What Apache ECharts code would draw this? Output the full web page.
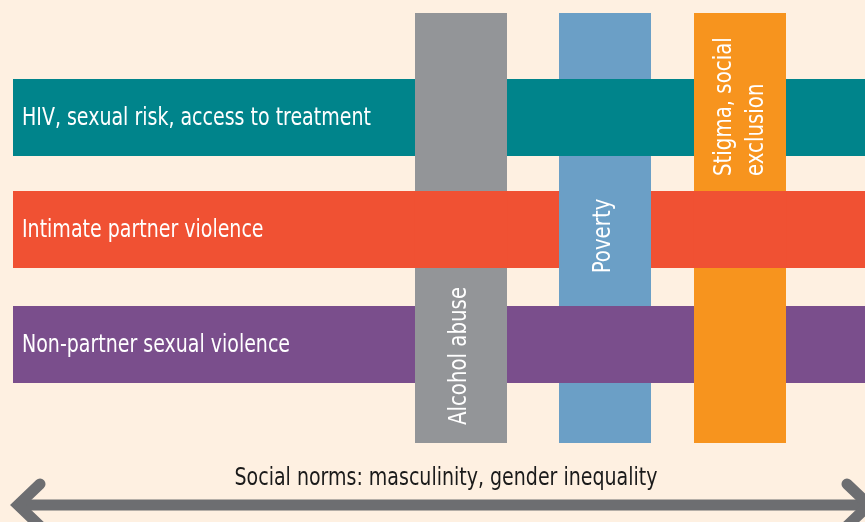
<!DOCTYPE html>
<html>
<head>
<meta charset="utf-8">
<script src="https://cdn.jsdelivr.net/npm/echarts@6/dist/echarts.min.js"></script>
<style>
html,body{margin:0;padding:0;background:#fef0e1;}
#chart{width:865px;height:522px;}
</style>
</head>
<body>
<div id="chart"></div>
<script>
// ---- data ----
const rowNames = ['HIV, sexual risk, access to treatment', 'Intimate partner violence', 'Non-partner sexual violence'];
const colNames = ['Alcohol abuse', 'Poverty', 'Stigma, social\nexclusion'];
// weave: true = the row strand passes over the column strand
const rowOver = [
  [false, true, false],
  [true, false, true],
  [false, true, false]
];
const baseLabel = 'Social norms: masculinity, gender inequality';

// ---- layout / style (not data) ----
const FONT = '"DejaVu Sans Condensed", "DejaVu Sans", sans-serif';
const SX = 0.88;
const rowColors = ['#00848b', '#f05133', '#7a4e8c'];
const colColors = ['#939598', '#6b9fc6', '#f7941e'];
const rowCenter = [117.5, 229.5, 344.5];
const rowHalf = 38.5;
const rowX = [13, 865];
const colCenter = [461, 605, 740];
const colHalf = 46;
const colY = [13, 443];
const colLabelPos = [[459, 356, 'center'], [603, 236, 'center'], [740, 176, 'left']];

const chart = echarts.init(document.getElementById('chart'));

function rect(api, x0, y0, x1, y1, color) {
  const p0 = api.coord([x0, y0]);
  const p1 = api.coord([x1, y1]);
  return {
    type: 'rect',
    shape: { x: Math.min(p0[0], p1[0]), y: Math.min(p0[1], p1[1]), width: Math.abs(p1[0] - p0[0]), height: Math.abs(p1[1] - p0[1]) },
    style: { fill: color }
  };
}

const crossings = [];
rowOver.forEach((r, i) => r.forEach((over, j) => { if (over) crossings.push([i, j]); }));

chart.setOption({
  backgroundColor: '#fef0e1',
  animation: false,
  grid: { left: 0, right: 0, top: 0, bottom: 0 },
  xAxis: { type: 'value', min: 0, max: 865, show: false },
  yAxis: { type: 'value', min: 0, max: 522, inverse: true, show: false },
  series: [
    {
      type: 'custom', z: 1,
      data: rowNames.map((n, i) => [i]),
      renderItem: function (params, api) {
        const i = api.value(0);
        const r = rect(api, rowX[0], rowCenter[i] - rowHalf, rowX[1], rowCenter[i] + rowHalf, rowColors[i]);
        const p = api.coord([22, rowCenter[i]]);
        return {
          type: 'group',
          children: [r, {
            type: 'text', x: p[0], y: p[1] + 1, scaleX: SX,
            style: { text: rowNames[i], fill: '#ffffff', font: '24px ' + FONT, align: 'left', verticalAlign: 'middle' }
          }]
        };
      }
    },
    {
      type: 'custom', z: 2,
      data: colNames.map((n, j) => [j]),
      renderItem: function (params, api) {
        const j = api.value(0);
        const r = rect(api, colCenter[j] - colHalf, colY[0], colCenter[j] + colHalf, colY[1], colColors[j]);
        const lp = colLabelPos[j];
        const p = api.coord([lp[0], lp[1]]);
        return {
          type: 'group',
          children: [r, {
            type: 'text', x: p[0], y: p[1], rotation: Math.PI / 2, scaleX: SX,
            style: { text: colNames[j], fill: '#ffffff', font: '25px ' + FONT, align: lp[2], verticalAlign: 'middle', lineHeight: 32 }
          }]
        };
      }
    },
    {
      type: 'custom', z: 3,
      data: crossings,
      renderItem: function (params, api) {
        const i = api.value(0), j = api.value(1);
        return rect(api, colCenter[j] - colHalf - 0.5, rowCenter[i] - rowHalf, colCenter[j] + colHalf + 0.5, rowCenter[i] + rowHalf, rowColors[i]);
      }
    }
  ],
  graphic: [
    { type: 'line', shape: { x1: 16, y1: 505, x2: 862, y2: 505 }, style: { stroke: '#6d6e71', lineWidth: 11 } },
    { type: 'polyline', shape: { points: [[40, 484], [18, 505], [40, 526]] }, style: { stroke: '#6d6e71', lineWidth: 11, lineCap: 'round', lineJoin: 'miter', fill: null } },
    { type: 'polyline', shape: { points: [[847, 484], [869, 505], [847, 526]] }, style: { stroke: '#6d6e71', lineWidth: 11, lineCap: 'round', lineJoin: 'miter', fill: null } },
    { type: 'text', x: 446, y: 479, scaleX: SX, originX: 0, style: { text: baseLabel, fill: '#1a1a1a', font: '24px ' + FONT, align: 'center', verticalAlign: 'middle' } }
  ]
});
</script>
</body>
</html>
